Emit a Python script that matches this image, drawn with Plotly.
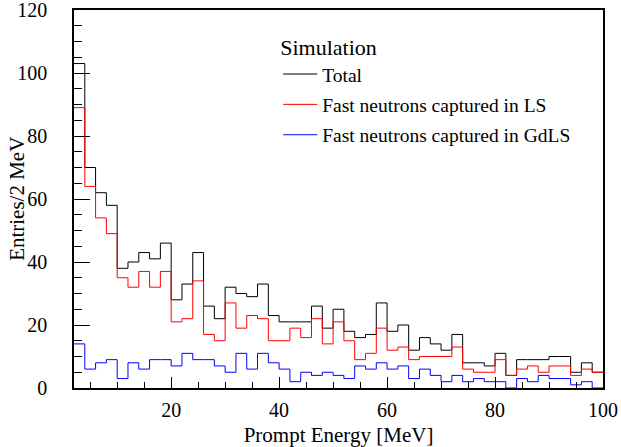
import numpy as np
import plotly.graph_objects as go

# 2 MeV bins from 2 to 100 MeV
bin_edges = np.arange(2, 101, 2)

total = [103, 70, 62, 58, 38, 40, 43, 41, 46, 28,
         33, 43, 26, 22, 32, 30, 29, 33, 23, 21,
         21, 21, 26, 19, 25, 18, 16, 17, 27, 18,
         20, 12, 16, 14, 12, 17, 8, 8, 7, 11,
         4, 9, 9, 9, 10, 10, 5, 8, 5]
captured_ls = [89, 64, 54, 49, 35, 32, 37, 32, 37, 21,
               22, 34, 17, 15, 27, 19, 23, 22, 15, 15,
               19, 16, 22, 14, 21, 15, 9, 11, 19, 12,
               13, 9, 10, 10, 10, 13, 6, 5, 5, 9,
               4, 6, 7, 5, 7, 7, 4, 6, 5]
captured_gdls = [14, 6, 8, 9, 3, 8, 6, 9, 9, 7,
                 11, 9, 9, 7, 5, 11, 6, 11, 8, 6,
                 2, 5, 4, 5, 4, 3, 7, 6, 8, 6,
                 7, 3, 6, 4, 2, 4, 2, 3, 2, 2,
                 0, 3, 2, 4, 3, 3, 1, 2, 0]

series = [
    ("Total", total, "black"),
    ("Fast neutrons captured in LS", captured_ls, "#ff0000"),
    ("Fast neutrons captured in GdLS", captured_gdls, "#0000ff"),
]

FONT = "Liberation Serif"

fig = go.Figure()
for i, (name, vals, color) in enumerate(series):
    fig.add_trace(go.Scatter(
        x=bin_edges,
        y=list(vals) + [vals[-1]],
        mode="lines",
        line=dict(shape="hv", color=color, width=1),
        name=name,
        legendgroup=f"g{i}",
    ))

axis_common = dict(
    showline=True, linecolor="black", linewidth=1.5, mirror=True,
    ticks="inside", tickcolor="black", showgrid=False, zeroline=False,
    automargin=False, ticklabeloverflow="allow",
    tickfont=dict(family=FONT, size=20, color="black"),
)

fig.update_layout(
    width=621, height=447,
    margin=dict(l=74, r=18, t=10, b=59),
    plot_bgcolor="white", paper_bgcolor="white",
    font=dict(family=FONT, color="black"),
    xaxis=dict(
        range=[2, 100], tickvals=[20, 40, 60, 80, 100], ticklen=11,
        minor=dict(dtick=5, tick0=0, ticks="inside", ticklen=6, tickcolor="black"),
        ticklabelstandoff=3,
        title=dict(text="Prompt Energy [MeV]", font=dict(family=FONT, size=21), standoff=11),
        **axis_common,
    ),
    yaxis=dict(
        range=[0, 120], dtick=20, ticklen=16,
        minor=dict(dtick=5, ticks="inside", ticklen=8, tickcolor="black"),
        ticklabelstandoff=21,
        **axis_common,
    ),
    showlegend=True,
    legend=dict(
        x=0.386, y=0.957, xanchor="left", yanchor="top",
        bgcolor="rgba(0,0,0,0)",
        font=dict(family=FONT, size=19.5, color="black"),
        title=dict(text="Simulation", font=dict(family=FONT, size=22)),
        tracegroupgap=2,
        itemwidth=34,
    ),
)

# y title placed by hand, a bit closer to the tick labels than plotly puts it
fig.add_annotation(
    text="Entries/2 MeV", textangle=-90,
    xref="paper", yref="paper", x=-0.108, y=0.5,
    xanchor="center", yanchor="middle", showarrow=False,
    font=dict(family=FONT, size=21, color="black"),
)

# drop the default 8px body margin so the figure sits at the window origin
fig.write_html("out.html", config={"displayModeBar": False},
               post_script="document.body.style.margin='0';")
